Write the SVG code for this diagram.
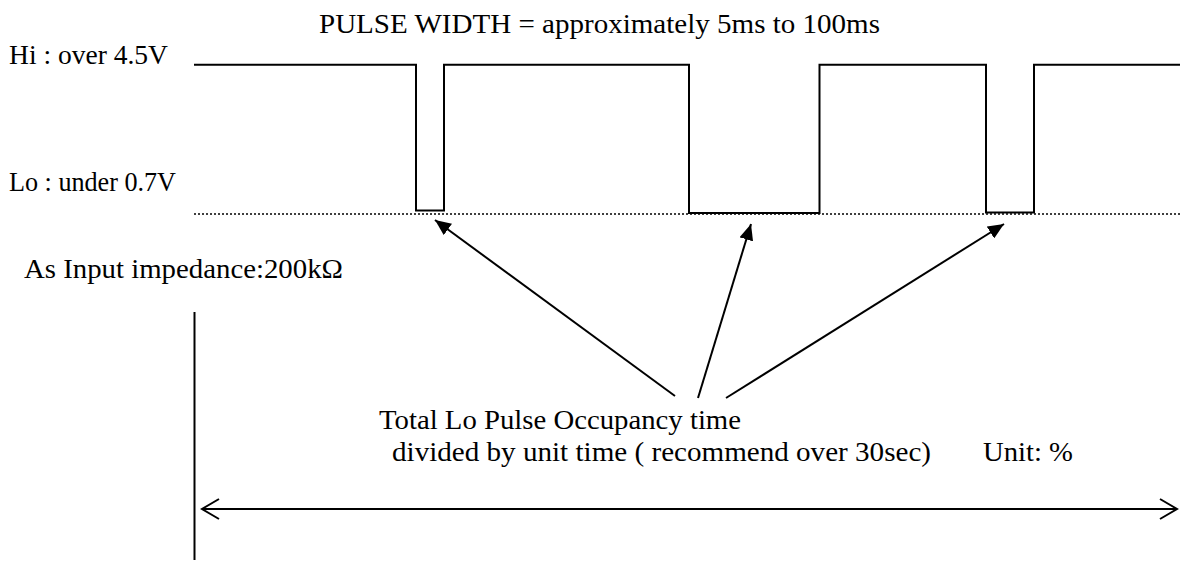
<svg xmlns="http://www.w3.org/2000/svg" width="1180" height="561" viewBox="0 0 1180 561">
<style>
  text { font-family: "Liberation Serif", "Times New Roman", serif; font-size: 27px; fill: #000; }
  .wave { fill: none; stroke: #000; stroke-width: 2; }
  .dot { fill: none; stroke: #000; stroke-width: 1.5; stroke-dasharray: 2 2; }
  .ln { fill: none; stroke: #000; stroke-width: 2; }
</style>
<defs>
  <marker id="tri" viewBox="0 0 16 14" refX="16" refY="7" markerWidth="16" markerHeight="14" markerUnits="userSpaceOnUse" orient="auto">
    <path d="M0,0 L16,7 L0,14 Z" fill="#000"/>
  </marker>
  <marker id="open" viewBox="0 0 20 22" refX="18" refY="11" markerWidth="20" markerHeight="22" markerUnits="userSpaceOnUse" orient="auto-start-reverse">
    <path d="M1,1 L18,11 L1,21" fill="none" stroke="#000" stroke-width="2"/>
  </marker>
</defs>
<rect width="1180" height="561" fill="#fff"/>
<g id="title"><text x="319" y="33" textLength="561" lengthAdjust="spacingAndGlyphs">PULSE WIDTH = approximately 5ms to 100ms</text></g>
<g id="hi-label"><text x="9" y="64" textLength="159" lengthAdjust="spacingAndGlyphs">Hi : over 4.5V</text></g>
<g id="lo-label"><text x="9" y="191" textLength="167" lengthAdjust="spacingAndGlyphs">Lo : under 0.7V</text></g>
<g id="impedance-label"><text x="24" y="278" textLength="319" lengthAdjust="spacingAndGlyphs">As Input impedance:200kΩ</text></g>
<g id="waveform">
  <path class="wave" d="M194,64.7 H416 V210.5 H444 V64.7 H689 V213 H819.5 V64.7 H986 V212.5 H1034 V64.7 H1180"/>
  <line class="dot" x1="194" y1="214" x2="1180" y2="214"/>
</g>
<g id="occupancy-label">
  <text x="379" y="429" textLength="362" lengthAdjust="spacingAndGlyphs">Total Lo Pulse Occupancy time</text>
  <text x="392" y="461" textLength="539" lengthAdjust="spacingAndGlyphs">divided by unit time ( recommend over 30sec)</text>
</g>
<g id="unit-label"><text x="983" y="461" textLength="90" lengthAdjust="spacingAndGlyphs">Unit: %</text></g>
<g id="connectors">
  <line class="ln" x1="675" y1="396" x2="435" y2="220" marker-end="url(#tri)"/>
  <line class="ln" x1="698" y1="398" x2="751" y2="224" marker-end="url(#tri)"/>
  <line class="ln" x1="726" y1="398" x2="1004" y2="224" marker-end="url(#tri)"/>
  <line class="ln" x1="194.5" y1="312" x2="194.5" y2="560"/>
  <line class="ln" x1="202" y1="509" x2="1177" y2="509" marker-start="url(#open)" marker-end="url(#open)"/>
</g>
</svg>
